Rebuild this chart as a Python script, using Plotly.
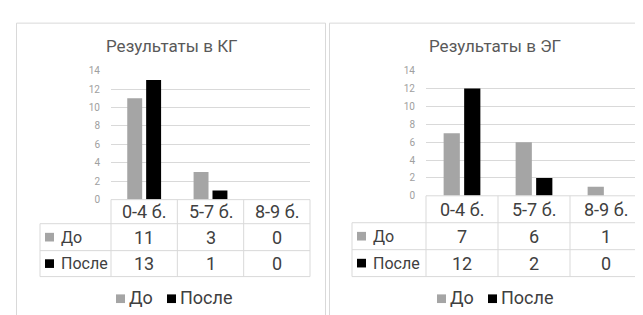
import plotly.graph_objects as go

W, H = 643, 315

categories = ["0-4 б.", "5-7 б.", "8-9 б."]
series_names = ["До", "После"]
kg_before = [11, 3, 0]
kg_after = [13, 1, 0]
eg_before = [7, 6, 1]
eg_after = [12, 2, 0]
y_ticks = [0, 2, 4, 6, 8, 10, 12, 14]
titles = ["Результаты в КГ", "Результаты в ЭГ"]
colors = ["#a5a5a5", "#000000"]

FONT = "Roboto"
GRID = "#d9d9d9"
TXT = "#404040"
TS = 18      # table values / categories
LS = 16      # table row labels
LEG = 18     # legend


def px(x):
    return x / W


def py(y):
    return (H - y) / H


panels = [
    dict(title=titles[0], data=[kg_before, kg_after], ax="x", ay="y",
         pl=103, pr=302, y0=193, ytop=59, tl=32, hb=218, r1=246, r2=273,
         box=(8.5, 9.5, 317.5, 330), cx=166, tcx=164, title_y=33, leg_y=296),
    dict(title=titles[1], data=[eg_before, eg_after], ax="x2", ay="y2",
         pl=418, pr=634, y0=189, ytop=59, tl=344, hb=217, r1=245, r2=273,
         box=(321.5, 9.5, 700, 330), cx=487, tcx=487, title_y=33, leg_y=296),
]

fig = go.Figure()
shapes = []
annotations = []


def square(x, yc, color, size=9):
    shapes.append(dict(type="rect", xref="paper", yref="paper",
                       x0=px(x), x1=px(x + size),
                       y0=py(yc + size / 2), y1=py(yc - size / 2),
                       line=dict(width=0), fillcolor=color))


def label(text, x, y, size, anchor="left", color=TXT):
    annotations.append(dict(text=text, xref="paper", yref="paper",
                            x=px(x), y=py(y), xanchor=anchor, yanchor="middle",
                            showarrow=False,
                            font=dict(family=FONT, size=size, color=color)))


for i, p in enumerate(panels):
    for s, name in enumerate(series_names):
        fig.add_trace(go.Bar(
            x=categories, y=p["data"][s], name=name,
            marker=dict(color=colors[s], line=dict(width=0)),
            xaxis=p["ax"], yaxis=p["ay"], showlegend=False,
        ))
    xk = "xaxis" if i == 0 else "xaxis2"
    yk = "yaxis" if i == 0 else "yaxis2"
    fig.update_layout(**{
        xk: dict(domain=[px(p["pl"]), px(p["pr"])], anchor=p["ay"],
                 showticklabels=False, showgrid=False, zeroline=False,
                 showline=False, ticks="", range=[-0.5, 2.5],
                 categoryorder="array", categoryarray=categories),
        yk: dict(domain=[py(p["y0"]), py(p["ytop"])], anchor=p["ax"],
                 range=[0, 14], tickvals=y_ticks, showgrid=True,
                 gridcolor=GRID, gridwidth=1, zeroline=False,
                 showline=False, ticks="", ticklabelstandoff=10,
                 tickfont=dict(family=FONT, size=10, color="#a0a0a0")),
    })

    # panel border
    x0, y0b, x1, y1b = p["box"]
    shapes.append(dict(type="rect", xref="paper", yref="paper",
                       x0=px(x0), x1=px(x1), y0=py(y1b), y1=py(y0b),
                       line=dict(color=GRID, width=1), layer="below"))

    # title
    label(p["title"], p["tcx"], p["title_y"], 17, anchor="center", color="#595959")

    # data table grid
    cw = (p["pr"] - p["pl"]) / len(categories)
    colx = [p["pl"] + k * cw for k in range(len(categories) + 1)]

    def hline(xa, xb, y):
        shapes.append(dict(type="line", xref="paper", yref="paper",
                           x0=px(xa), x1=px(xb), y0=py(y), y1=py(y),
                           line=dict(color=GRID, width=1)))

    def vline(x, ya, yb):
        shapes.append(dict(type="line", xref="paper", yref="paper",
                           x0=px(x), x1=px(x), y0=py(ya), y1=py(yb),
                           line=dict(color=GRID, width=1)))

    hline(p["pl"], p["pr"], p["y0"])
    hline(p["tl"], p["pr"], p["hb"])
    hline(p["tl"], p["pr"], p["r1"])
    hline(p["tl"], p["pr"], p["r2"])
    for cxp in colx:
        vline(cxp, p["y0"], p["r2"])
    vline(p["tl"], p["hb"], p["r2"])

    rows_y = [(p["y0"] + p["hb"]) / 2, (p["hb"] + p["r1"]) / 2, (p["r1"] + p["r2"]) / 2]
    for k, cat in enumerate(categories):
        ccx = (colx[k] + colx[k + 1]) / 2
        label(cat, ccx, rows_y[0], TS, anchor="center")
        for s in range(len(series_names)):
            label(str(p["data"][s][k]), ccx, rows_y[s + 1], TS, anchor="center")
    for s, name in enumerate(series_names):
        square(p["tl"] + 5, rows_y[s + 1], colors[s])
        label(name, p["tl"] + 19, rows_y[s + 1], LS)

    # legend
    offs = [(-58, -47), (-7, 4)]
    for s, name in enumerate(series_names):
        square(p["cx"] + offs[s][0], p["leg_y"], colors[s])
        label(name, p["cx"] + offs[s][1], p["leg_y"] - 1, LEG)

fig.update_layout(
    width=W, height=H, margin=dict(l=0, r=0, t=0, b=0),
    paper_bgcolor="white", plot_bgcolor="white",
    barmode="group", bargap=0.43, bargroupgap=0.21,
    shapes=shapes, annotations=annotations, showlegend=False,
    font=dict(family=FONT, color=TXT),
)

fig.write_html("out.html")
